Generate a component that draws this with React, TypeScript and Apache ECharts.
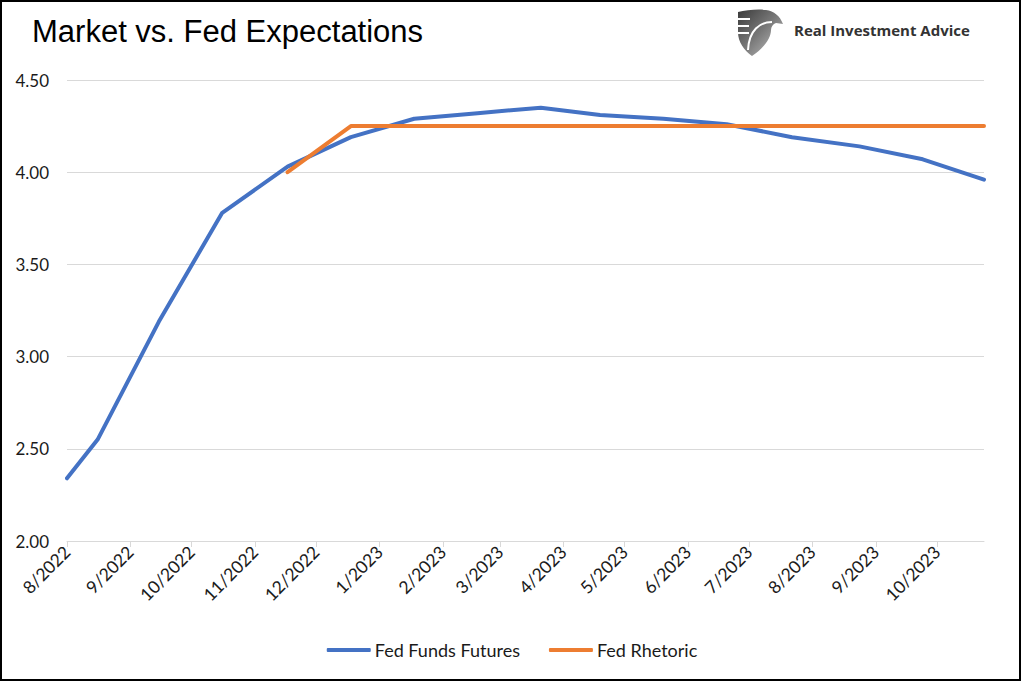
import React, { useEffect, useRef } from "react";
import * as echarts from "echarts";

const title = "Market vs. Fed Expectations";
const brand = "Real Investment Advice";

const dates = [
  "2022-08-01", "2022-08-16", "2022-09-15", "2022-10-16", "2022-11-17", "2022-12-18",
  "2023-01-18", "2023-02-18", "2023-03-21", "2023-04-19", "2023-05-20", "2023-06-20",
  "2023-07-22", "2023-08-24", "2023-09-24", "2023-10-24",
];
const fedFundsFutures = [
  2.34, 2.55, 3.19, 3.78, 4.03, 4.19, 4.29, 4.32, 4.35, 4.31, 4.29, 4.26, 4.19, 4.14, 4.07, 3.96,
];
const fedRhetoric: (number | null)[] = [
  null, null, null, null, 4.0, 4.25, 4.25, 4.25, 4.25, 4.25, 4.25, 4.25, 4.25, 4.25, 4.25, 4.25,
];
const tickMonths = [
  "2022-08-01", "2022-09-01", "2022-10-01", "2022-11-01", "2022-12-01", "2023-01-01",
  "2023-02-01", "2023-03-01", "2023-04-01", "2023-05-01", "2023-06-01", "2023-07-01",
  "2023-08-01", "2023-09-01", "2023-10-01",
];
const seriesNames = ["Fed Funds Futures", "Fed Rhetoric"];

const ts = (s: string) => new Date(s + "T00:00:00Z").getTime();

let registered = false;
function registerLogo() {
  if (registered) return;
  registered = true;
  const d =
    "M2 4 C10 2 22 1 30 2 C38 3 44 8 47 16 L40 15 C37 16 35 19 35 22 C35 30 28 40 16 48 C8 42 2 34 2 24 Z";
  echarts.graphic.registerShape("logo", echarts.graphic.extendPath(d, {}));
}

export default function App() {
  const ref = useRef<HTMLDivElement>(null);
  useEffect(() => {
    document.body.style.margin = "0";
    registerLogo();
    const chart = echarts.init(ref.current!, null, { renderer: "svg" });
    const font = "Lato, 'Open Sans', sans-serif";
    const blueData = dates.map((d, i) => [ts(d), fedFundsFutures[i]]);
    const orangeData = dates
      .map((d, i) => [ts(d), fedRhetoric[i]])
      .filter((p) => p[1] !== null);
    const tickTs = tickMonths.map(ts);
    chart.setOption({
      animation: false,
      backgroundColor: "#ffffff",
      grid: { left: 67, right: 40, top: 80, bottom: 142 },
      xAxis: {
        type: "value",
        min: ts(dates[0]),
        max: ts(dates[dates.length - 1]),
        axisLine: { show: true, lineStyle: { color: "#d9d9d9", width: 1 } },
        axisTick: {
          show: true,
          customValues: tickTs,
          length: 6,
          lineStyle: { color: "#d9d9d9" },
        },
        splitLine: { show: false },
        axisLabel: {
          customValues: tickTs,
          rotate: 45,
          margin: 8,
          color: "#1a1a1a",
          fontFamily: font,
          fontSize: 17.5,
          formatter: (v: number) => {
            const dt = new Date(v);
            return `${dt.getUTCMonth() + 1}/${dt.getUTCFullYear()}`;
          },
        },
      },
      yAxis: {
        type: "value",
        min: 2,
        max: 4.5,
        interval: 0.5,
        axisLine: { show: false },
        axisTick: { show: false },
        splitLine: { lineStyle: { color: "#d9d9d9", width: 1 } },
        axisLabel: {
          margin: 18,
          color: "#1a1a1a",
          fontFamily: font,
          fontSize: 17,
          formatter: (v: number) => v.toFixed(2),
        },
      },
      legend: {
        bottom: 19,
        left: "center",
        itemWidth: 44,
        itemHeight: 4,
        itemGap: 29,
        icon: "roundRect",
        textStyle: { fontFamily: font, fontSize: 18, color: "#1a1a1a", padding: [0, 0, 0, -1] },
        data: seriesNames,
      },
      series: [
        {
          name: seriesNames[0],
          type: "line",
          data: blueData,
          symbol: "none",
          color: "#4472C4",
          lineStyle: { width: 4, color: "#4472C4", cap: "round", join: "round" },
        },
        {
          name: seriesNames[1],
          type: "line",
          data: orangeData,
          symbol: "none",
          color: "#ED7D31",
          lineStyle: { width: 4, color: "#ED7D31", cap: "round", join: "round" },
        },
      ],
      graphic: [
        {
          type: "rect",
          shape: { x: 1, y: 1, width: 1019, height: 679 },
          style: { fill: "none", stroke: "#000", lineWidth: 2 },
          silent: true,
        },
        {
          type: "text",
          left: 32,
          top: 16,
          style: {
            text: title,
            fill: "#000",
            font: "31px 'Liberation Sans', Arial, sans-serif",
          },
        },
        {
          type: "logo",
          x: 736,
          y: 8,
          scaleX: 1,
          scaleY: 1,
          style: {
            fill: new echarts.graphic.LinearGradient(0, 0, 1, 1, [
              { offset: 0, color: "#3a3a3a" },
              { offset: 0.5, color: "#7a7a7a" },
              { offset: 1, color: "#c8c8c8" },
            ]),
          },
        },
        { type: "rect", shape: { x: 736, y: 18, width: 14, height: 2 }, style: { fill: "#fff" } },
        { type: "rect", shape: { x: 736, y: 25, width: 13, height: 2 }, style: { fill: "#fff" } },
        { type: "rect", shape: { x: 737, y: 32, width: 12, height: 2 }, style: { fill: "#fff" } },
        {
          type: "bezierCurve",
          shape: { x1: 748, y1: 50, x2: 772, y2: 22, cpx1: 749, cpy1: 30, cpx2: 760, cpy2: 22 },
          style: { stroke: "#fff", lineWidth: 2, fill: "none" },
        },
        {
          type: "text",
          left: 794,
          top: 22,
          style: {
            text: brand,
            fill: "#333",
            font: "bold 15px 'Open Sans', Lato, sans-serif",
          },
        },
      ],
    });
    return () => chart.dispose();
  }, []);
  return <div ref={ref} style={{ width: 1024, height: 683 }} />;
}
